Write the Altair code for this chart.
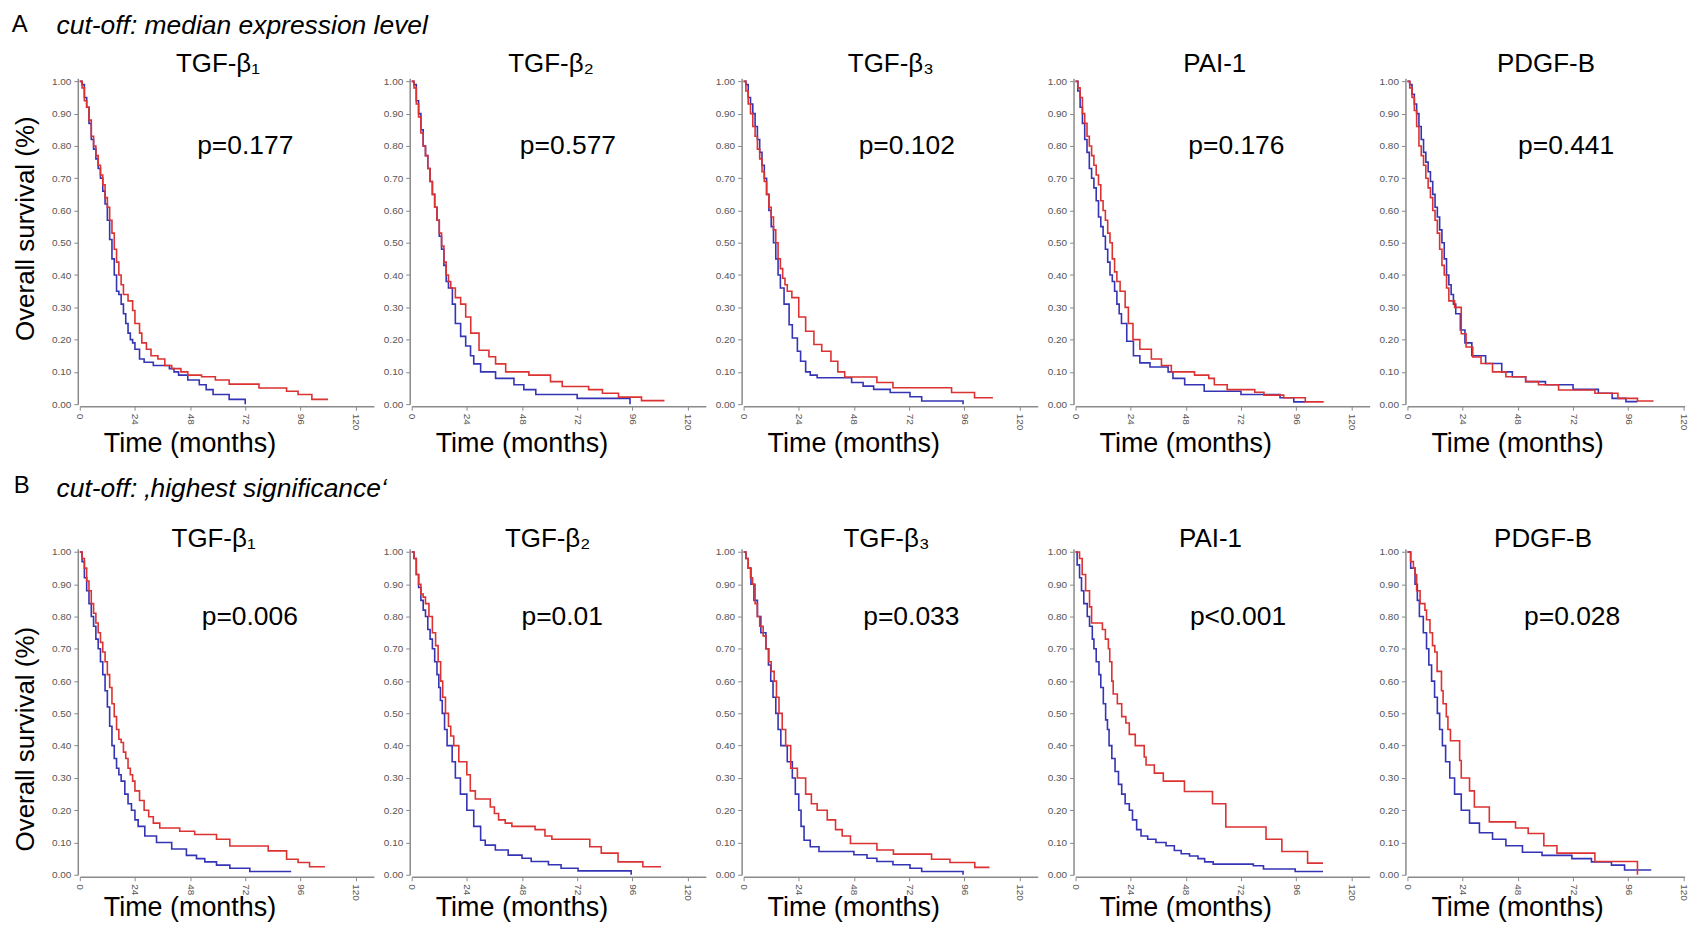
import altair as alt
import pandas as pd

FONT = "Liberation Sans"
RED = "#dc3232"
BLUE = "#3434b4"
AXIS_GRAY = "#8a8a8a"

GENES = ["TGF-β₁", "TGF-β₂", "TGF-β₃", "PAI-1", "PDGF-B"]
ROW_LETTERS = ["A", "B"]
ROW_HEADERS = ["cut-off: median expression level",
               "cut-off: \u201ahighest significance\u2018"]
P_TEXT = [["p=0.177", "p=0.577", "p=0.102", "p=0.176", "p=0.441"],
          ["p=0.006", "p=0.01", "p=0.033", "p<0.001", "p=0.028"]]
P_X = [[72, 68, 71, 70, 69], [74, 65.5, 73, 70.7, 71.6]]
P_Y = 0.775
X_TICKS = [0, 24, 48, 72, 96, 120]
Y_TICKS = [0.0, 0.1, 0.2, 0.3, 0.4, 0.5, 0.6, 0.7, 0.8, 0.9, 1.0]

# Kaplan-Meier curves (time in months, survival fraction); "high" = red, "low" = blue
A1_HIGH = [(0, 1.0), (1, 0.98), (2, 0.94), (3, 0.92), (4, 0.88), (5, 0.83), (6, 0.80), (7, 0.77), (8, 0.74),
           (9, 0.71), (10, 0.68), (11, 0.64), (12, 0.61), (13, 0.57), (14, 0.53), (15, 0.48), (16, 0.44),
           (17, 0.40), (18, 0.37), (19, 0.34), (21, 0.32), (23, 0.29), (24, 0.25), (26, 0.22), (27, 0.19),
           (29, 0.17), (31, 0.15), (34, 0.14), (37, 0.12), (40, 0.11), (44, 0.10), (47, 0.09), (53, 0.085),
           (59, 0.075), (65, 0.062), (78, 0.05), (90, 0.04), (95, 0.03), (101, 0.015), (108, 0.015)]
A1_LOW = [(0, 1.0), (1, 0.99), (2, 0.95), (3, 0.92), (4, 0.87), (5, 0.82), (6, 0.79), (7, 0.76), (8, 0.73),
          (9, 0.70), (10, 0.66), (11, 0.62), (12, 0.57), (13, 0.51), (14, 0.45), (15, 0.40), (16, 0.35),
          (17, 0.34), (18, 0.31), (19, 0.28), (20, 0.25), (21, 0.22), (22, 0.20), (23, 0.19), (24, 0.17),
          (26, 0.14), (28, 0.13), (32, 0.12), (39, 0.11), (41, 0.10), (43, 0.09), (47, 0.075), (52, 0.06),
          (55, 0.045), (58, 0.03), (65, 0.015), (72, 0.0)]

A2_HIGH = [(0, 1.0), (1, 0.98), (2, 0.93), (3, 0.89), (4, 0.84), (5, 0.80), (6, 0.77), (7, 0.73), (8, 0.69),
           (9, 0.65), (10, 0.61), (11, 0.57), (12, 0.53), (13, 0.49), (14, 0.44), (15, 0.40), (16, 0.38),
           (17, 0.36), (19, 0.33), (21.3, 0.31), (23.5, 0.27), (25.7, 0.22), (29.3, 0.167), (33.6, 0.147),
           (36.5, 0.125), (40.9, 0.10), (51, 0.09), (60.4, 0.07), (65.5, 0.055), (77, 0.045), (83, 0.034),
           (90, 0.022), (100, 0.011), (110, 0.011)]
A2_LOW = [(0, 1.0), (1, 0.99), (2, 0.94), (3, 0.90), (4, 0.85), (5, 0.80), (6, 0.77), (7, 0.73), (8, 0.69),
          (9, 0.65), (10, 0.61), (11, 0.57), (12, 0.52), (13, 0.48), (14, 0.43), (15, 0.38), (16, 0.36),
          (17.7, 0.31), (19, 0.25), (21.3, 0.21), (23.5, 0.18), (25.6, 0.15), (27, 0.125), (30, 0.10),
          (36.5, 0.08), (44.5, 0.06), (48.8, 0.045), (54, 0.03), (72, 0.018), (95, 0.0)]

A3_HIGH = [(0, 1.0), (1, 0.97), (2, 0.93), (3, 0.90), (4, 0.86), (5, 0.83), (6, 0.79), (7, 0.76), (8, 0.72),
           (9, 0.69), (10, 0.65), (11, 0.61), (12, 0.58), (13, 0.54), (14, 0.50), (15, 0.45), (16, 0.42),
           (17, 0.39), (18, 0.37), (19, 0.35), (21, 0.33), (24, 0.27), (27, 0.226), (30.6, 0.185),
           (34, 0.164), (38, 0.133), (41, 0.10), (44, 0.084), (58, 0.067), (65, 0.051), (90.5, 0.036),
           (100.5, 0.02), (108.5, 0.02)]
A3_LOW = [(0, 1.0), (1, 0.99), (2, 0.95), (3, 0.93), (4, 0.90), (5, 0.86), (6, 0.82), (7, 0.78), (8, 0.74),
          (9, 0.70), (10, 0.65), (11, 0.60), (12, 0.55), (13, 0.50), (14, 0.45), (15, 0.40), (16, 0.36),
          (17.6, 0.31), (19.8, 0.246), (21.2, 0.205), (23.4, 0.164), (24.8, 0.133), (27, 0.10), (29, 0.09),
          (32, 0.082), (47, 0.067), (52, 0.056), (56.6, 0.046), (63.8, 0.036), (72.4, 0.023), (77.5, 0.01),
          (95.5, 0.0)]

A4_HIGH = [(0, 1.0), (1, 0.98), (2, 0.95), (3, 0.90), (4, 0.87), (5, 0.83), (6, 0.80), (7, 0.77), (8, 0.74),
           (9, 0.71), (10, 0.68), (11, 0.63), (12, 0.60), (13, 0.57), (14, 0.53), (15, 0.50), (16, 0.45),
           (17, 0.41), (18, 0.38), (19.4, 0.35), (21.6, 0.30), (23, 0.25), (25, 0.20), (28, 0.17), (33, 0.14),
           (37.4, 0.12), (41.7, 0.10), (51.8, 0.09), (58, 0.08), (60.4, 0.06), (66, 0.045), (78, 0.037),
           (82, 0.028), (90.6, 0.02), (100, 0.007), (108, 0.007)]
A4_LOW = [(0, 1.0), (1, 0.97), (2, 0.92), (3, 0.87), (4, 0.82), (5, 0.78), (6, 0.73), (7, 0.70), (8, 0.67),
          (9, 0.63), (10, 0.58), (11, 0.55), (12, 0.52), (13, 0.48), (14, 0.44), (15, 0.40), (16, 0.38),
          (17, 0.35), (18, 0.31), (19, 0.28), (20, 0.25), (22.3, 0.195), (25.2, 0.15), (28, 0.128),
          (32.4, 0.115), (40.3, 0.10), (42.4, 0.08), (47.5, 0.06), (56, 0.04), (72, 0.03), (89, 0.02),
          (95, 0.007), (100, 0.007)]

A5_HIGH = [(0, 1.0), (1, 0.98), (2, 0.95), (3, 0.91), (4, 0.86), (5, 0.80), (6, 0.77), (7, 0.74), (8, 0.70),
           (9, 0.67), (10, 0.64), (11, 0.60), (12, 0.57), (13, 0.53), (14, 0.48), (15, 0.43), (16, 0.40),
           (17, 0.36), (18, 0.32), (20.5, 0.30), (23.4, 0.218), (25.5, 0.177), (28.4, 0.146), (32, 0.126),
           (37, 0.10), (42.8, 0.085), (51.4, 0.07), (57, 0.06), (65.7, 0.044), (81.5, 0.034), (91.5, 0.018),
           (100, 0.01), (107, 0.01)]
A5_LOW = [(0, 1.0), (1, 0.99), (2, 0.96), (3, 0.93), (4, 0.90), (5, 0.86), (6, 0.82), (7, 0.78), (8, 0.75),
          (9, 0.72), (10, 0.69), (11, 0.65), (12, 0.61), (13, 0.58), (14, 0.54), (15, 0.50), (16, 0.45),
          (17, 0.40), (18, 0.37), (19, 0.34), (20, 0.31), (21, 0.28), (23, 0.23), (25, 0.19), (28, 0.15),
          (34, 0.126), (41, 0.10), (45.6, 0.085), (51.4, 0.07), (60, 0.06), (72, 0.046), (83, 0.034),
          (89, 0.018), (95, 0.008), (100, 0.008)]

B1_HIGH = [(0, 1.0), (1, 0.98), (2, 0.95), (3, 0.91), (4, 0.88), (5, 0.84), (6, 0.81), (7, 0.78), (8, 0.75),
           (9, 0.72), (10, 0.69), (11, 0.66), (12, 0.62), (13, 0.58), (14, 0.53), (15, 0.49), (16, 0.45),
           (17, 0.42), (18, 0.41), (19, 0.38), (20, 0.36), (21, 0.33), (22, 0.31), (23, 0.29), (24, 0.26),
           (26, 0.23), (28, 0.20), (30, 0.18), (32, 0.16), (34.8, 0.145), (43.5, 0.135), (50, 0.125),
           (59.5, 0.11), (65.3, 0.089), (82, 0.074), (90, 0.048), (95, 0.038), (100, 0.025), (106.7, 0.025)]
B1_LOW = [(0, 1.0), (1, 0.97), (2, 0.92), (3, 0.88), (4, 0.84), (5, 0.80), (6, 0.77), (7, 0.73), (8, 0.70),
          (9, 0.66), (10, 0.62), (11, 0.57), (12, 0.52), (13, 0.46), (14, 0.40), (15, 0.36), (16, 0.33),
          (17, 0.31), (18, 0.29), (19.6, 0.25), (21, 0.22), (22.5, 0.20), (24, 0.17), (25.4, 0.15),
          (28.3, 0.12), (33.4, 0.10), (40, 0.08), (46.4, 0.06), (50.8, 0.05), (54.4, 0.04), (59.5, 0.03),
          (65.3, 0.02), (74, 0.01), (92, 0.01)]

B2_HIGH = [(0, 1.0), (1, 0.98), (2, 0.93), (3, 0.90), (4, 0.87), (5, 0.86), (6, 0.84), (7.5, 0.80), (9, 0.75),
           (10.4, 0.71), (11.5, 0.66), (12.6, 0.60), (13.5, 0.55), (14.7, 0.50), (16, 0.46), (17, 0.43),
           (18.3, 0.40), (20.5, 0.35), (24, 0.31), (25.5, 0.26), (27.7, 0.235), (34.2, 0.21), (36, 0.19),
           (37.8, 0.17), (40.7, 0.16), (43.6, 0.15), (53.7, 0.14), (58, 0.12), (61, 0.11), (77.5, 0.087),
           (82.5, 0.067), (89.8, 0.04), (100.6, 0.025), (108.5, 0.025)]
B2_LOW = [(0, 1.0), (1, 0.98), (2, 0.93), (3, 0.89), (4, 0.85), (5, 0.82), (6, 0.80), (7, 0.76), (8, 0.73),
          (9, 0.70), (10, 0.66), (11, 0.62), (11.8, 0.58), (12.5, 0.54), (13.3, 0.50), (14.3, 0.45),
          (15.4, 0.40), (17.6, 0.35), (19, 0.30), (21.2, 0.25), (24, 0.20), (27, 0.15), (30, 0.107),
          (32, 0.092), (36.4, 0.077), (42, 0.061), (48, 0.051), (52, 0.041), (59.5, 0.031), (65, 0.02),
          (72.4, 0.012), (95.5, 0.0)]

B3_HIGH = [(0, 1.0), (1, 0.98), (2, 0.95), (3, 0.92), (3.9, 0.90), (5, 0.84), (6, 0.80), (7, 0.77), (8.5, 0.74),
           (9.7, 0.70), (11, 0.66), (12, 0.63), (13.3, 0.60), (14.3, 0.55), (15.4, 0.50), (16.8, 0.45),
           (18.3, 0.40), (20.5, 0.33), (23.4, 0.30), (27, 0.25), (29.5, 0.22), (32, 0.20), (36.4, 0.17),
           (40, 0.14), (42.9, 0.12), (46.5, 0.097), (58, 0.077), (65.2, 0.064), (81.8, 0.048), (89.8, 0.038),
           (100.6, 0.023), (107, 0.023)]
B3_LOW = [(0, 1.0), (1, 0.98), (2, 0.95), (3.2, 0.90), (4.5, 0.85), (6, 0.80), (7.5, 0.75), (9.7, 0.70),
          (10.8, 0.65), (11.8, 0.60), (12.8, 0.55), (14, 0.50), (15, 0.45), (16.2, 0.40), (19, 0.35),
          (21.2, 0.30), (22.5, 0.25), (24, 0.20), (25, 0.15), (26.3, 0.107), (29, 0.087), (32.8, 0.072),
          (48, 0.062), (53.7, 0.051), (58, 0.041), (65, 0.031), (72.4, 0.02), (77.5, 0.01), (95.5, 0.0)]

B4_HIGH = [(0, 1.0), (1.75, 0.98), (2.9, 0.93), (4.4, 0.88), (6.1, 0.83), (7, 0.78), (11.7, 0.76), (13, 0.73),
           (14.3, 0.70), (14.9, 0.66), (15.8, 0.60), (16.4, 0.56), (18.2, 0.53), (20.1, 0.49), (21.9, 0.47),
           (23.4, 0.435), (26, 0.40), (29.9, 0.365), (30.7, 0.34), (34.3, 0.315), (38.2, 0.29), (47.4, 0.258),
           (59.6, 0.22), (65.4, 0.148), (82.9, 0.11), (89.8, 0.072), (101, 0.036), (107.7, 0.036)]
B4_LOW = [(0, 1.0), (0.7, 0.96), (1.75, 0.92), (2.6, 0.88), (3.6, 0.84), (5.1, 0.80), (6.1, 0.77), (7.3, 0.73),
          (8, 0.70), (9, 0.66), (10.2, 0.62), (11, 0.58), (12.1, 0.53), (13.1, 0.48), (13.9, 0.45), (14.6, 0.40),
          (15.8, 0.36), (17.2, 0.32), (18.7, 0.28), (20.1, 0.25), (21.6, 0.22), (23.4, 0.20), (24.8, 0.17),
          (26.6, 0.14), (28.5, 0.12), (31.4, 0.11), (35, 0.10), (39.4, 0.09), (43, 0.075), (46, 0.065),
          (49.6, 0.058), (53.3, 0.05), (56.2, 0.04), (59.9, 0.033), (77.4, 0.028), (81.8, 0.018),
          (95.6, 0.01), (107.7, 0.01)]

B5_HIGH = [(0, 1.0), (1.4, 0.97), (2.6, 0.95), (3.3, 0.93), (4, 0.88), (5.5, 0.84), (7.6, 0.82), (8.3, 0.79),
           (9.8, 0.75), (10.9, 0.71), (11.9, 0.69), (12.9, 0.63), (14.8, 0.57), (15.5, 0.53), (16.9, 0.49),
           (17.6, 0.45), (18.7, 0.415), (22.7, 0.354), (23.4, 0.30), (27, 0.26), (29.1, 0.21), (35.6, 0.164),
           (47, 0.145), (52.5, 0.128), (59.3, 0.09), (65, 0.067), (81.5, 0.041), (100, 0.0)]
B5_LOW = [(0, 1.0), (1.4, 0.95), (3.3, 0.90), (4.3, 0.85), (5.2, 0.80), (6.9, 0.75), (8.3, 0.70), (9.3, 0.65),
          (10.5, 0.60), (11.8, 0.55), (13, 0.50), (14, 0.45), (15.2, 0.40), (16.6, 0.35), (18.4, 0.30),
          (20.5, 0.25), (23.4, 0.20), (27, 0.16), (31.3, 0.13), (37, 0.11), (42.8, 0.09), (50, 0.07),
          (58.5, 0.06), (71.5, 0.05), (80, 0.04), (88.7, 0.03), (94.4, 0.015), (106, 0.015)]

HIGH = [[A1_HIGH, A2_HIGH, A3_HIGH, A4_HIGH, A5_HIGH], [B1_HIGH, B2_HIGH, B3_HIGH, B4_HIGH, B5_HIGH]]
LOW = [[A1_LOW, A2_LOW, A3_LOW, A4_LOW, A5_LOW], [B1_LOW, B2_LOW, B3_LOW, B4_LOW, B5_LOW]]

# layout (pixels)
PLOT_H = 327
TITLE_CX = [[138.6, 139.7, 147.6, 139.7, 139.0], [134.2, 136.3, 143.3, 135.4, 136.0]]
TITLE_Y = [-6, -2]
YTITLE_Y = [150.5, 190.5]
XTITLE_Y = [45.7, 39.0]
LETTER_POS = [(-68.3, -46.5), (-66.3, -56)]
HEADER_POS = [(-23.3, -44.5), (-23.3, -51.5)]


def panel(r, c):
    last = c == 4
    xmax = 120.5 if last else 128
    w = 278 if last else 295
    xaxis = alt.Axis(values=X_TICKS, labelAngle=90, labelFontSize=10, labelColor="#555555", labelFont=FONT,
                     labelPadding=3, tickSize=4, offset=2, title="Time (months)", titleFont=FONT,
                     titleFontSize=27, titleFontWeight="normal", titleColor="black", titleX=110,
                     titleY=XTITLE_Y[r], titleAlign="center", titleBaseline="alphabetic")
    if c == 0:
        yaxis = alt.Axis(values=Y_TICKS, format=".2f", labelFontSize=10, labelColor="#555555", labelFont=FONT,
                         labelPadding=3, tickSize=4, offset=2, title="Overall survival (%)", titleFont=FONT,
                         titleFontSize=26, titleFontWeight="normal", titleColor="black", titleAngle=270,
                         titleX=-44, titleY=YTITLE_Y[r], titleAlign="center", titleBaseline="alphabetic")
    else:
        yaxis = alt.Axis(values=Y_TICKS, format=".2f", labelFontSize=10, labelColor="#555555", labelFont=FONT,
                         labelPadding=3, tickSize=4, offset=2, title=None)
    xenc = alt.X("t:Q", scale=alt.Scale(domain=[0, xmax], nice=False, zero=False), axis=xaxis)
    yenc = alt.Y("s:Q", scale=alt.Scale(domain=[0, 1.01], nice=False, zero=False), axis=yaxis)

    low = alt.Chart(pd.DataFrame(LOW[r][c], columns=["t", "s"])).mark_line(
        color=BLUE, strokeWidth=1.6, interpolate="step-after").encode(x=xenc, y=yenc)
    high = alt.Chart(pd.DataFrame(HIGH[r][c], columns=["t", "s"])).mark_line(
        color=RED, strokeWidth=1.6, interpolate="step-after").encode(x=xenc, y=yenc)
    ptext = alt.Chart(pd.DataFrame({"t": [P_X[r][c]], "s": [P_Y], "label": [P_TEXT[r][c]]})).mark_text(
        font=FONT, fontSize=26.5, align="center", baseline="alphabetic", color="black").encode(
        x=xenc, y=yenc, text="label:N")
    title = alt.Chart(pd.DataFrame({"label": [GENES[c]]})).mark_text(
        font=FONT, fontSize=26, align="center", baseline="alphabetic", color="black").encode(
        text="label:N", x=alt.value(TITLE_CX[r][c]), y=alt.value(TITLE_Y[r]))
    layers = [low, high, ptext, title]
    if c == 0:
        lx, ly = LETTER_POS[r]
        hx, hy = HEADER_POS[r]
        letter = alt.Chart(pd.DataFrame({"label": [ROW_LETTERS[r]]})).mark_text(
            font=FONT, fontSize=24, align="left", baseline="alphabetic", color="black").encode(
            text="label:N", x=alt.value(lx), y=alt.value(ly))
        header = alt.Chart(pd.DataFrame({"label": [ROW_HEADERS[r]]})).mark_text(
            font=FONT, fontSize=26.5, fontStyle="italic", align="left", baseline="alphabetic",
            color="black").encode(text="label:N", x=alt.value(hx), y=alt.value(hy))
        layers += [letter, header]
    return alt.layer(*layers).properties(width=w, height=PLOT_H)


panels = [panel(r, c) for r in range(2) for c in range(5)]

chart = alt.concat(*panels, columns=5, spacing={"row": 145, "column": 37.9}, bounds="flush",
                   align="each").properties(
    padding={"left": 3, "top": 3, "right": 0, "bottom": 0}
).configure(background="white").configure_view(stroke=None).configure_axis(
    grid=False, domainColor=AXIS_GRAY, domainWidth=1.5, tickColor=AXIS_GRAY, tickWidth=1
)

chart.save("out.html", embed_options={"renderer": "svg", "actions": False})
